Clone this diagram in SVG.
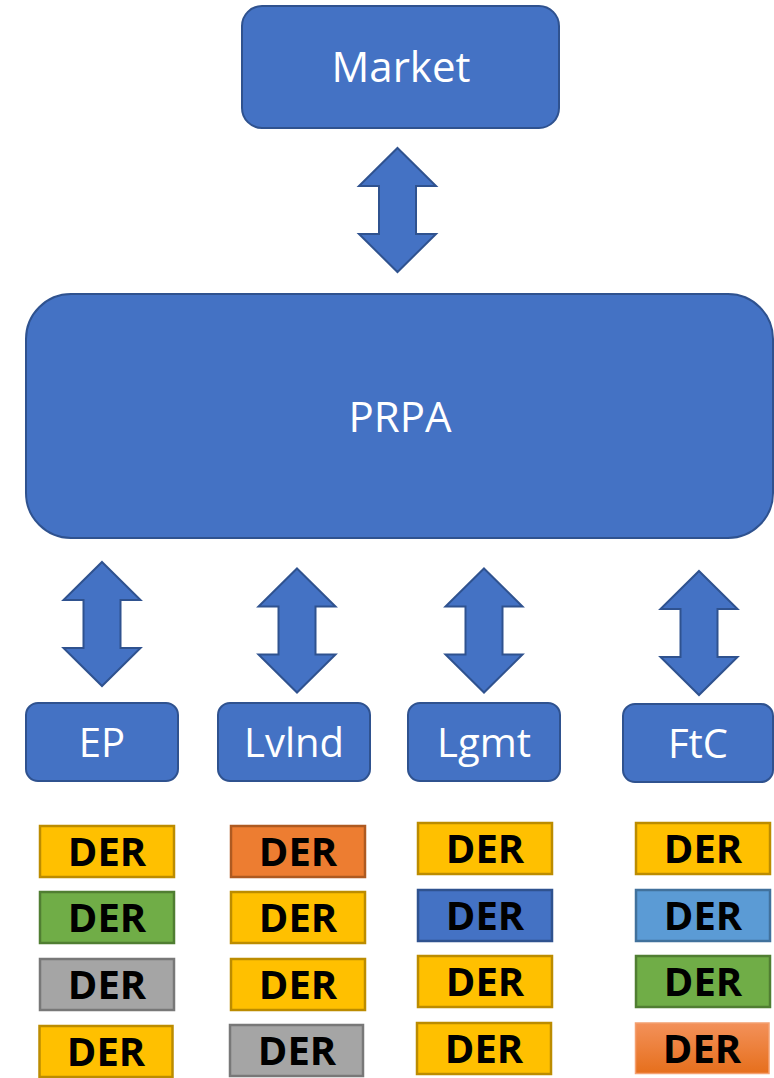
<svg xmlns="http://www.w3.org/2000/svg" xmlns:xlink="http://www.w3.org/1999/xlink" width="774" height="1078" viewBox="0 0 774 1078">
<style>
.node{fill:#4472C4;stroke:#2F528F;stroke-width:2}
.lbl{font-family:"Open Sans","Noto Sans","Liberation Sans",sans-serif;fill:#ffffff;text-anchor:middle}
.big{font-size:42px}
.mid{font-size:40px}
.der{font-family:"Open Sans","Noto Sans","Liberation Sans",sans-serif;font-weight:bold;font-size:40px;fill:#000000;text-anchor:middle}
.arrow{fill:#4472C4;stroke:#2F528F;stroke-width:2;stroke-linejoin:miter}
.yel{fill:#FFC000;stroke:#BC8C00;stroke-width:2.5}
.ora{fill:#ED7D31;stroke:#AE5A21;stroke-width:2.5}
.grn{fill:#70AD47;stroke:#507E32;stroke-width:2.5}
.gry{fill:#A5A5A5;stroke:#787878;stroke-width:2.5}
.blu{fill:#4472C4;stroke:#2F528F;stroke-width:2.5}
.lbl2{fill:#5B9BD5;stroke:#41719C;stroke-width:2.5}
.grad{fill:url(#og);stroke:#F4A070;stroke-width:1.5}
</style>
<defs>
<linearGradient id="og" x1="0" y1="0" x2="0" y2="1">
<stop offset="0" stop-color="#F3915A"/>
<stop offset="1" stop-color="#E66F1C"/>
</linearGradient>
<path id="dbl" d="M0,0 L38.5,38 L18.5,38 L18.5,86 L38.5,86 L0,124 L-38.5,86 L-18.5,86 L-18.5,38 L-38.5,38 Z"/>
</defs>
<g id="connectors">
<use href="#dbl" class="arrow" transform="translate(397.5,148)"/>
<use href="#dbl" class="arrow" transform="translate(102,562)"/>
<use href="#dbl" class="arrow" transform="translate(297,568.5)"/>
<use href="#dbl" class="arrow" transform="translate(484,568.5)"/>
<use href="#dbl" class="arrow" transform="translate(699,571)"/>
</g>
<g id="market"><rect class="node" x="242" y="6" width="317" height="122" rx="20"/><text class="lbl big" x="401" y="82">Market</text></g>
<g id="prpa"><rect class="node" x="26" y="294" width="747" height="244" rx="45"/><text class="lbl big" x="400" y="432">PRPA</text></g>
<g id="ep"><rect class="node" x="26" y="703" width="152" height="78" rx="12"/><text class="lbl mid" x="102" y="757">EP</text></g>
<g id="lvlnd"><rect class="node" x="218" y="703" width="152" height="78" rx="12"/><text class="lbl mid" x="294" y="757">Lvlnd</text></g>
<g id="lgmt"><rect class="node" x="408" y="703" width="152" height="78" rx="12"/><text class="lbl mid" x="484" y="757">Lgmt</text></g>
<g id="ftc"><rect class="node" x="623" y="704" width="150" height="78" rx="12"/><text class="lbl mid" x="698" y="758">FtC</text></g>
<g id="der-ep-1"><rect class="yel" x="40" y="826" width="134" height="51"/><text class="der" x="107" y="866">DER</text></g>
<g id="der-ep-2"><rect class="grn" x="40" y="892" width="134" height="51"/><text class="der" x="107" y="932">DER</text></g>
<g id="der-ep-3"><rect class="gry" x="40" y="959" width="134" height="51"/><text class="der" x="107" y="999">DER</text></g>
<g id="der-ep-4"><rect class="yel" x="39.5" y="1026" width="133" height="51"/><text class="der" x="106" y="1066">DER</text></g>
<g id="der-lv-1"><rect class="ora" x="231" y="826" width="134" height="51"/><text class="der" x="298" y="866">DER</text></g>
<g id="der-lv-2"><rect class="yel" x="231" y="892" width="134" height="51"/><text class="der" x="298" y="932">DER</text></g>
<g id="der-lv-3"><rect class="yel" x="231" y="959" width="134" height="51"/><text class="der" x="298" y="999">DER</text></g>
<g id="der-lv-4"><rect class="gry" x="230" y="1025" width="133" height="51"/><text class="der" x="297" y="1065">DER</text></g>
<g id="der-lg-1"><rect class="yel" x="418" y="823" width="134" height="51"/><text class="der" x="485" y="863">DER</text></g>
<g id="der-lg-2"><rect class="blu" x="418" y="890" width="134" height="51"/><text class="der" x="485" y="930">DER</text></g>
<g id="der-lg-3"><rect class="yel" x="418" y="956" width="134" height="51"/><text class="der" x="485" y="996">DER</text></g>
<g id="der-lg-4"><rect class="yel" x="417" y="1023" width="134" height="51"/><text class="der" x="484" y="1063">DER</text></g>
<g id="der-ft-1"><rect class="yel" x="636" y="823" width="134" height="51"/><text class="der" x="703" y="863">DER</text></g>
<g id="der-ft-2"><rect class="lbl2" x="636" y="890" width="134" height="51"/><text class="der" x="703" y="930">DER</text></g>
<g id="der-ft-3"><rect class="grn" x="636" y="956" width="134" height="51"/><text class="der" x="703" y="996">DER</text></g>
<g id="der-ft-4"><rect class="grad" x="635.5" y="1023" width="133.5" height="50.5"/><text class="der" x="702" y="1063">DER</text></g>
</svg>
